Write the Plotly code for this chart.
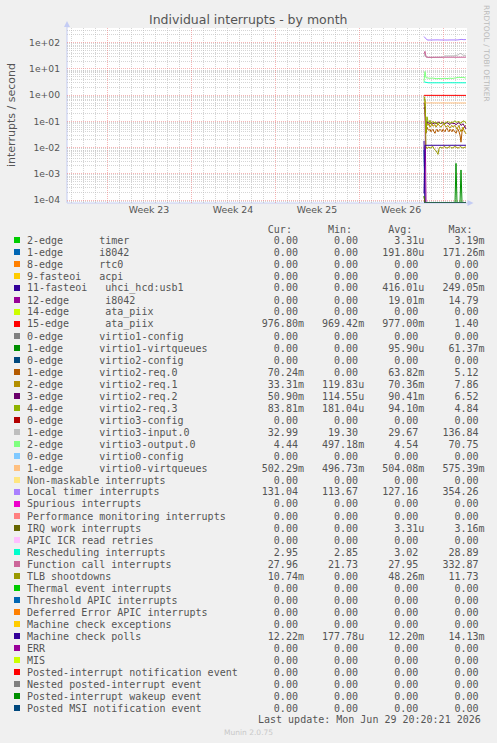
import numpy as np
import pandas as pd
import plotly.graph_objects as go

# ---------------- data ----------------
times = pd.date_range("2026-06-27 10:00", periods=43, freq="2h")
x_range = ["2026-05-28 16:00", "2026-07-01 00:00"]
y_range_log = [-4.114, 2.5595]
y_tick_vals = [1e-4, 1e-3, 1e-2, 1e-1, 1e0, 1e1, 1e2]
y_tick_text = ["1e-04", "1e-03", "1e-02", "1e-01", "1e+00", "1e+01", "1e+02"]

zero_series = [0, 0, 0, 0, 0, 0, 0, 0, 0, 0,
               0, 0, 0, 0, 0, 0, 0, 0, 0, 0,
               0, 0, 0, 0, 0, 0, 0, 0, 0, 0,
               0, 0, 0, 0, 0, 0, 0, 0, 0, 0,
               0, 0, 0]
timer_edge2 = [1.4e-4, 0, 0, 0, 0, 0, 0, 0, 0, 0,
               0, 0, 0, 0, 0, 0, 0, 0, 0, 0,
               0, 0, 0, 0, 0, 0, 0, 0, 0, 0,
               0, 0, 0, 0, 0, 0, 0, 0, 0, 0,
               0, 0, 0]
i8042_edge1 = [8.2e-3, 0, 0, 0, 0, 0, 0, 0, 0, 0,
               0, 0, 0, 0, 0, 0, 0, 0, 0, 0,
               0, 0, 0, 0, 0, 0, 0, 0, 0, 0,
               0, 0, 0, 0, 0, 0, 0, 0, 0, 0,
               0, 0, 0]
uhci_fasteoi11 = [1.8e-2, 0, 0, 0, 0, 0, 0, 0, 0, 0,
                  0, 0, 0, 0, 0, 0, 0, 0, 0, 0,
                  0, 0, 0, 0, 0, 0, 0, 0, 0, 0,
                  0, 0, 0, 0, 0, 0, 0, 0, 0, 0,
                  0, 0, 0]
i8042_edge12 = [0.50, 0.32, 0, 0, 0, 0, 0, 0, 0, 0,
                0, 0, 0, 0, 0, 0, 0, 0, 0, 0,
                0, 0, 0, 0, 0, 0, 0, 0, 0, 0,
                0, 0, 0, 0, 0, 0, 0, 0, 0, 0,
                0, 0, 0]
ata_edge15 = [0.980, 0.978, 0.977, 0.977, 0.976, 0.977, 0.977, 0.978, 0.977, 0.977,
              0.976, 0.977, 0.977, 0.977, 0.978, 0.977, 0.976, 0.977, 0.977, 0.977,
              0.977, 0.978, 0.977, 0.976, 0.977, 0.977, 0.977, 0.978, 0.977, 0.977,
              0.976, 0.977, 0.977, 0.977, 0.978, 0.977, 0.977, 0.976, 0.977, 0.977,
              0.977, 0.977, 0.977]
virtio1_vq = [0, 0, 0, 0, 0, 0, 0, 0, 0, 0,
              0, 0, 0, 0, 0, 0, 0, 0, 0, 0,
              0, 0, 0, 0, 0, 0, 0, 0, 0, 0,
              0, 0, 2.5e-3, 0, 0, 0, 0, 1.4e-3, 0, 0,
              0, 0, 0]
virtio2_req0 = [0.35, 0.30, 0.035, 0.060, 0.050, 0.045, 0.050, 0.040, 0.045, 0.050,
                0.040, 0.035, 0.045, 0.050, 0.040, 0.045, 0.050, 0.045, 0.040, 0.050,
                0.045, 0.040, 0.050, 0.055, 0.045, 0.040, 0.050, 0.045, 0.040, 0.050,
                0.045, 0.040, 0.035, 0.045, 0.050, 0.040, 0.030, 0.016, 0.040, 0.050,
                0.060, 0.065, 0.070]
virtio2_req1 = [0.55, 0.45, 0.050, 0.090, 0.070, 0.080, 0.060, 0.070, 0.080, 0.065,
                0.070, 0.075, 0.060, 0.070, 0.080, 0.070, 0.065, 0.060, 0.070, 0.075,
                0.080, 0.070, 0.060, 0.065, 0.070, 0.060, 0.055, 0.065, 0.070, 0.060,
                0.065, 0.070, 0.060, 0.050, 0.060, 0.070, 0.050, 0.040, 0.050, 0.060,
                0.045, 0.040, 0.033]
virtio2_req2 = [0.30, 0.35, 0.060, 0.100, 0.085, 0.090, 0.080, 0.085, 0.090, 0.080,
                0.085, 0.090, 0.080, 0.085, 0.090, 0.095, 0.085, 0.080, 0.090, 0.085,
                0.090, 0.080, 0.085, 0.090, 0.085, 0.080, 0.075, 0.085, 0.090, 0.080,
                0.085, 0.080, 0.075, 0.080, 0.085, 0.090, 0.080, 0.070, 0.075, 0.080,
                0.070, 0.060, 0.051]
virtio2_req3 = [0.75, 0.60, 0.040, 0.150, 0.100, 0.090, 0.110, 0.080, 0.090, 0.100,
                0.085, 0.090, 0.095, 0.080, 0.085, 0.090, 0.080, 0.085, 0.095, 0.090,
                0.080, 0.085, 0.090, 0.095, 0.100, 0.090, 0.085, 0.090, 0.095, 0.090,
                0.100, 0.105, 0.095, 0.090, 0.100, 0.095, 0.090, 0.085, 0.095, 0.100,
                0.105, 0.095, 0.084]
virtio3_input = [30.0, 42.0, 28.0, 27.0, 27.2, 27.4, 27.3, 27.5, 27.4, 27.3,
                 27.5, 27.6, 27.4, 27.5, 27.6, 27.5, 27.4, 27.5, 27.6, 29.0,
                 31.0, 31.5, 31.2, 31.0, 31.3, 31.5, 31.2, 31.4, 31.6, 31.3,
                 31.5, 31.8, 32.0, 33.0, 34.0, 36.0, 39.0, 38.0, 35.0, 33.5,
                 33.0, 33.2, 32.99]
virtio3_output = [3.3, 8.0, 4.6, 4.4, 4.5, 4.4, 4.3, 4.4, 4.5, 4.4,
                  4.3, 4.4, 4.3, 4.2, 4.3, 4.4, 4.3, 4.2, 4.3, 4.4,
                  4.3, 4.4, 4.3, 4.2, 4.3, 4.4, 4.5, 4.4, 4.3, 4.4,
                  4.5, 4.6, 4.5, 4.6, 4.7, 4.8, 4.7, 4.6, 4.7, 4.8,
                  4.7, 4.5, 4.44]
virtio0_vq = [0.56, 0.51, 0.505, 0.504, 0.503, 0.504, 0.505, 0.504, 0.503, 0.504,
              0.505, 0.504, 0.503, 0.504, 0.503, 0.504, 0.505, 0.504, 0.503, 0.504,
              0.503, 0.504, 0.505, 0.504, 0.503, 0.504, 0.503, 0.504, 0.505, 0.504,
              0.503, 0.504, 0.503, 0.504, 0.505, 0.504, 0.503, 0.504, 0.503, 0.504,
              0.503, 0.502, 0.502]
local_timer = [172, 150, 132, 128, 126, 127, 128, 127, 126, 127,
               128, 127, 126, 127, 128, 127, 126, 127, 126, 127,
               128, 127, 126, 125, 126, 127, 126, 125, 126, 127,
               126, 125, 126, 127, 128, 130, 138, 140, 134, 130,
               129, 132, 131.04]
irq_work = [1.4e-4, 0, 0, 0, 0, 0, 0, 0, 0, 0,
            0, 0, 0, 0, 0, 0, 0, 0, 0, 0,
            0, 0, 0, 0, 0, 0, 0, 0, 0, 0,
            0, 0, 0, 0, 0, 0, 0, 0, 0, 0,
            0, 0, 0]
rescheduling = [3.2, 3.1, 2.97, 2.95, 2.96, 2.95, 2.94, 2.95, 2.96, 2.95,
                2.94, 2.95, 2.96, 2.95, 2.94, 2.95, 2.96, 2.95, 2.94, 2.95,
                2.96, 2.95, 2.94, 2.95, 2.96, 2.95, 2.94, 2.95, 2.96, 2.95,
                2.94, 2.95, 2.96, 2.95, 2.94, 2.95, 2.96, 2.95, 2.94, 2.95,
                2.96, 2.95, 2.95]
function_call = [38.0, 47.0, 29.0, 27.5, 27.8, 27.6, 27.9, 27.7, 27.8, 28.0,
                 27.9, 27.7, 27.8, 27.9, 27.8, 27.7, 27.9, 28.0, 27.8, 27.7,
                 27.9, 27.8, 27.7, 27.8, 27.9, 27.8, 27.7, 27.8, 27.9, 28.0,
                 27.9, 27.8, 27.7, 27.8, 27.9, 28.0, 28.3, 28.5, 28.1, 27.9,
                 27.8, 28.0, 27.96]
tlb_shootdowns = [0.90, 0.70, 0.0110, 0.0090, 0.0100, 0.0105, 0.0095, 0.0100, 0.0105, 0.0110,
                  0.0090, 0.0085, 0.0075, 0.0065, 0.0055, 0.0090, 0.0105, 0.0100, 0.0095, 0.0100,
                  0.0110, 0.0105, 0.0100, 0.0095, 0.0100, 0.0105, 0.0110, 0.0100, 0.0095, 0.0100,
                  0.0105, 0.0110, 0.0105, 0.0100, 0.0095, 0.0100, 0.0110, 0.0105, 0.0100, 0.0095,
                  0.0100, 0.0105, 0.01074]
mce_polls = [1.78e-4, 0.01220, 0.01221, 0.01220, 0.01219, 0.01220, 0.01221, 0.01220, 0.01220, 0.01219,
             0.01220, 0.01221, 0.01220, 0.01220, 0.01219, 0.01220, 0.01221, 0.01220, 0.01220, 0.01219,
             0.01220, 0.01221, 0.01220, 0.01220, 0.01219, 0.01220, 0.01221, 0.01220, 0.01220, 0.01219,
             0.01220, 0.01221, 0.01220, 0.01220, 0.01219, 0.01220, 0.01221, 0.01220, 0.01220, 0.01219,
             0.01220, 0.01221, 0.01222]

labels = [
    "2-edge      timer",
    "1-edge      i8042",
    "8-edge      rtc0",
    "9-fasteoi   acpi",
    "11-fasteoi   uhci_hcd:usb1",
    "12-edge      i8042",
    "14-edge      ata_piix",
    "15-edge      ata_piix",
    "0-edge      virtio1-config",
    "1-edge      virtio1-virtqueues",
    "0-edge      virtio2-config",
    "1-edge      virtio2-req.0",
    "2-edge      virtio2-req.1",
    "3-edge      virtio2-req.2",
    "4-edge      virtio2-req.3",
    "0-edge      virtio3-config",
    "1-edge      virtio3-input.0",
    "2-edge      virtio3-output.0",
    "0-edge      virtio0-config",
    "1-edge      virtio0-virtqueues",
    "Non-maskable interrupts",
    "Local timer interrupts",
    "Spurious interrupts",
    "Performance monitoring interrupts",
    "IRQ work interrupts",
    "APIC ICR read retries",
    "Rescheduling interrupts",
    "Function call interrupts",
    "TLB shootdowns",
    "Thermal event interrupts",
    "Threshold APIC interrupts",
    "Deferred Error APIC interrupts",
    "Machine check exceptions",
    "Machine check polls",
    "ERR",
    "MIS",
    "Posted-interrupt notification event",
    "Nested posted-interrupt event",
    "Posted-interrupt wakeup event",
    "Posted MSI notification event",
]
colors = [
    "#00CC00", "#0066B3", "#FF8000", "#FFCC00", "#330099", "#990099", "#CCFF00", "#FF0000",
    "#808080", "#008F00", "#00487D", "#B35A00", "#B38F00", "#6B006B", "#8FB300", "#B30000",
    "#BEBEBE", "#80FF80", "#80C9FF", "#FFC080", "#FFE680", "#AA80FF", "#EE00CC", "#FF8080",
    "#666600", "#FFBFFF", "#00FFCC", "#CC6699", "#999900", "#00CC00", "#0066B3", "#FF8000",
    "#FFCC00", "#330099", "#990099", "#CCFF00", "#FF0000", "#808080", "#008F00", "#00487D",
]
series_values = [
    timer_edge2, i8042_edge1, zero_series, zero_series, uhci_fasteoi11, i8042_edge12,
    zero_series, ata_edge15, zero_series, virtio1_vq, zero_series, virtio2_req0,
    virtio2_req1, virtio2_req2, virtio2_req3, zero_series, virtio3_input, virtio3_output,
    zero_series, virtio0_vq, zero_series, local_timer, zero_series, zero_series,
    irq_work, zero_series, rescheduling, function_call, tlb_shootdowns, zero_series,
    zero_series, zero_series, zero_series, mce_polls, zero_series, zero_series,
    zero_series, zero_series, zero_series, zero_series,
]
cur_vals = ["0.00", "0.00", "0.00", "0.00", "0.00", "0.00", "0.00", "976.80m", "0.00", "0.00",
            "0.00", "70.24m", "33.31m", "50.90m", "83.81m", "0.00", "32.99", "4.44", "0.00", "502.29m",
            "0.00", "131.04", "0.00", "0.00", "0.00", "0.00", "2.95", "27.96", "10.74m", "0.00",
            "0.00", "0.00", "0.00", "12.22m", "0.00", "0.00", "0.00", "0.00", "0.00", "0.00"]
min_vals = ["0.00", "0.00", "0.00", "0.00", "0.00", "0.00", "0.00", "969.42m", "0.00", "0.00",
            "0.00", "0.00", "119.83u", "114.55u", "181.04u", "0.00", "19.30", "497.18m", "0.00", "496.73m",
            "0.00", "113.67", "0.00", "0.00", "0.00", "0.00", "2.85", "21.73", "0.00", "0.00",
            "0.00", "0.00", "0.00", "177.78u", "0.00", "0.00", "0.00", "0.00", "0.00", "0.00"]
avg_vals = ["3.31u", "191.80u", "0.00", "0.00", "416.01u", "19.01m", "0.00", "977.00m", "0.00", "95.90u",
            "0.00", "63.82m", "70.36m", "90.41m", "94.10m", "0.00", "29.67", "4.54", "0.00", "504.08m",
            "0.00", "127.16", "0.00", "0.00", "3.31u", "0.00", "3.02", "27.95", "48.26m", "0.00",
            "0.00", "0.00", "0.00", "12.20m", "0.00", "0.00", "0.00", "0.00", "0.00", "0.00"]
max_vals = ["3.19m", "171.26m", "0.00", "0.00", "249.05m", "14.79", "0.00", "1.40", "0.00", "61.37m",
            "0.00", "5.12", "7.86", "6.52", "4.84", "0.00", "136.84", "70.75", "0.00", "575.39m",
            "0.00", "354.26", "0.00", "0.00", "3.16m", "0.00", "28.89", "332.87", "11.73", "0.00",
            "0.00", "0.00", "0.00", "14.13m", "0.00", "0.00", "0.00", "0.00", "0.00", "0.00"]

title_text = "Individual interrupts - by month"
y_title = "interrupts / second"
last_update = "Last update: Mon Jun 29 20:20:21 2026"
footer = "Munin 2.0.75"
side_text = "RRDTOOL / TOBI OETIKER"

# ---------------- layout geometry ----------------
W, H = 497, 743
ML, MR, MT, MB = 67, 30, 28, 540
PW, PH = W - ML - MR, H - MT - MB
PLOT_BOTTOM = MT + PH


def px_x(px):
    return (px - ML) / PW


def px_y(py):
    return (PLOT_BOTTOM - py) / PH


TEXT = "#555555"
MONO = "DejaVu Sans Mono"
SANS = "DejaVu Sans"
MAJOR_GRID = "rgba(240,120,120,0.55)"
MINOR_GRID = "rgba(185,185,185,0.6)"

fig = go.Figure()
floor = 10 ** y_range_log[0]
for vals, col in zip(series_values, colors):
    v = np.asarray(vals, dtype=float)
    y = np.where(v > 0, v, floor)
    fig.add_trace(go.Scatter(x=times, y=y, mode="lines",
                             line=dict(color=col, width=1),
                             showlegend=False, hoverinfo="skip"))

minor_y = [k * 10.0 ** d for d in range(-5, 3) for k in range(2, 10)]

fig.update_layout(
    width=W, height=H,
    margin=dict(l=ML, r=MR, t=MT, b=MB),
    paper_bgcolor="#F0F0F0", plot_bgcolor="#FFFFFF",
    showlegend=False,
    xaxis=dict(
        type="date", range=x_range,
        tick0="2026-06-01", dtick=7 * 24 * 3600 * 1000,
        tickformat="Week %V", ticklabelmode="period",
        showgrid=True, gridcolor=MAJOR_GRID, griddash="1px,1px", gridwidth=1,
        minor=dict(tick0="2026-06-01", dtick=24 * 3600 * 1000, showgrid=True,
                   gridcolor=MINOR_GRID, griddash="1px,1px", gridwidth=1),
        showline=False, zeroline=False, ticks="",
        tickfont=dict(family=SANS, size=9.4, color=TEXT),
    ),
    yaxis=dict(
        type="log", range=y_range_log,
        tickmode="array", tickvals=y_tick_vals, ticktext=y_tick_text,
        showgrid=True, gridcolor=MAJOR_GRID, griddash="1px,1px", gridwidth=1,
        minor=dict(tickmode="array", tickvals=minor_y, showgrid=True,
                   gridcolor=MINOR_GRID, griddash="1px,1px", gridwidth=1),
        showline=False, zeroline=False, ticks="", ticklabelstandoff=6,
        tickfont=dict(family=SANS, size=9.2, color=TEXT),
    ),
)

AXIS = "#C4CCF4"
shapes = [
    dict(type="line", xref="paper", yref="paper", x0=0, x1=0, y0=0, y1=px_y(25),
         line=dict(color=AXIS, width=1), layer="between"),
    dict(type="line", xref="paper", yref="paper", x0=0, x1=px_x(470), y0=0, y1=0,
         line=dict(color=AXIS, width=1), layer="between"),
    dict(type="path", xref="paper", yref="paper",
         path=f"M {px_x(64)} {px_y(27)} L {px_x(70)} {px_y(27)} L {px_x(67)} {px_y(21)} Z",
         fillcolor=AXIS, line=dict(width=0)),
    dict(type="path", xref="paper", yref="paper",
         path=f"M {px_x(467.5)} {px_y(200)} L {px_x(467.5)} {px_y(206)} L {px_x(473.5)} {px_y(203)} Z",
         fillcolor=AXIS, line=dict(width=0)),
]

annotations = [
    dict(text=title_text, xref="paper", yref="paper", x=px_x(248.5), y=px_y(19),
         xanchor="center", yanchor="middle", showarrow=False,
         font=dict(family=SANS, size=12.5, color=TEXT)),
    dict(text=y_title, xref="paper", yref="paper", x=px_x(11), y=px_y(115),
         xanchor="center", yanchor="middle", showarrow=False, textangle=-90,
         font=dict(family=SANS, size=11, color=TEXT)),
    dict(text=side_text, xref="paper", yref="paper", x=px_x(487), y=px_y(53),
         xanchor="center", yanchor="middle", showarrow=False, textangle=90,
         font=dict(family=SANS, size=7.5, color="#BBBBBB")),
]


def field(s):
    s = s if s[-1].isalpha() else s + " "
    return s.rjust(7)


NB = "\u00a0"
header = " " * 40 + "Cur:" + " " * 6 + "Min:" + " " * 6 + "Avg:" + " " * 6 + "Max:"
annotations.append(dict(text=header.replace(" ", NB), xref="paper", yref="paper",
                        x=px_x(26), y=px_y(229), xanchor="left", yanchor="middle",
                        showarrow=False, borderpad=0,
                        font=dict(family=MONO, size=10, color=TEXT)))

ROW0, ROWH = 240, 12
for i, lab in enumerate(labels):
    ry = ROW0 + ROWH * i
    line = (lab.ljust(39) + field(cur_vals[i]) + "   " + field(min_vals[i]) + "   "
            + field(avg_vals[i]) + "   " + field(max_vals[i]))
    annotations.append(dict(text=line.replace(" ", NB), xref="paper", yref="paper",
                            x=px_x(26), y=px_y(ry), xanchor="left", yanchor="middle",
                            showarrow=False, borderpad=0,
                            font=dict(family=MONO, size=10, color=TEXT)))
    shapes.append(dict(type="rect", xref="paper", yref="paper",
                       x0=px_x(14), x1=px_x(20), y0=px_y(ry + 3), y1=px_y(ry - 3),
                       fillcolor=colors[i], line=dict(width=0)))

annotations.append(dict(text=last_update.replace(" ", NB), xref="paper", yref="paper",
                        x=px_x(482), y=px_y(719), xanchor="right", yanchor="middle",
                        showarrow=False, borderpad=0,
                        font=dict(family=MONO, size=10, color=TEXT)))
annotations.append(dict(text=footer, xref="paper", yref="paper",
                        x=px_x(248), y=px_y(732), xanchor="center", yanchor="middle",
                        showarrow=False, borderpad=0,
                        font=dict(family=SANS, size=7.5, color="#C8C8C8")))

fig.update_layout(shapes=shapes, annotations=annotations)
fig.write_html("out.html")
